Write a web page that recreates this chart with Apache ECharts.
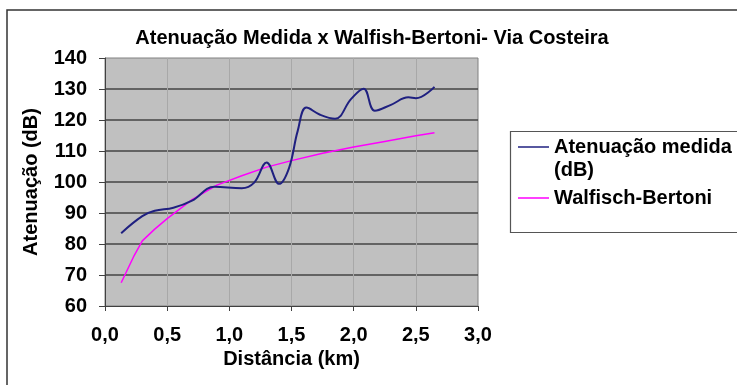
<!DOCTYPE html>
<html>
<head>
<meta charset="utf-8">
<script src="https://cdn.jsdelivr.net/npm/echarts@6/dist/echarts.min.js"></script>
<style>
  html, body { margin: 0; padding: 0; background: #ffffff; }
  #chart { width: 737px; height: 385px; }
</style>
</head>
<body>
<div id="chart"></div>
<script>
// Distance (km) and attenuation (dB) — measured along Via Costeira
const distMedida = [0.13, 0.30, 0.40, 0.55, 0.70, 0.88, 1.10, 1.20, 1.30, 1.40, 1.48, 1.55, 1.62, 1.73, 1.85, 1.98, 2.08, 2.17, 2.30, 2.44, 2.50, 2.65];
const atenMedida = [83.5, 89.0, 90.7, 91.7, 94.0, 98.5, 98.0, 99.8, 106.3, 99.4, 104.5, 116.5, 124.0, 121.7, 120.4, 126.8, 130.1, 123.0, 124.9, 127.3, 127.0, 130.7];

// Walfisch-Bertoni prediction
const distWB = [0.13, 0.23, 0.30, 0.40, 0.50, 0.70, 0.90, 1.10, 1.30, 1.50, 1.75, 2.00, 2.25, 2.50, 2.65];
const atenWB = [67.5, 75.9, 81.0, 84.8, 88.2, 94.3, 99.0, 102.0, 104.8, 106.9, 109.3, 111.3, 113.1, 114.9, 115.9];

const xTicks = [0, 0.5, 1.0, 1.5, 2.0, 2.5, 3.0];
const yTicks = [60, 70, 80, 90, 100, 110, 120, 130, 140];

const serieMedida = 'Atenuação medida (dB)';
const serieWB = 'Walfisch-Bertoni';
const corMedida = '#1f2080';
const corWB = '#ff00ff';

const FONT = '"Liberation Sans", Arial, sans-serif';
const BOLD20 = 'bold 20px "Liberation Sans", Arial, sans-serif';

const chart = echarts.init(document.getElementById('chart'), null, { renderer: 'canvas' });

// Legend panel on the right: framed box with a line sample and label per series
const legendGraphics = [
  {
    type: 'rect',
    shape: { x: 510.5, y: 131.5, width: 260, height: 101 },
    style: { fill: '#fff', stroke: '#555', lineWidth: 1.2 },
    silent: true
  },
  {
    type: 'line',
    shape: { x1: 518, y1: 147, x2: 549, y2: 147 },
    style: { stroke: corMedida, lineWidth: 1.5 },
    silent: true
  },
  {
    type: 'text',
    x: 554, y: 147,
    style: { text: 'Atenuação medida\n(dB)', font: BOLD20, fill: '#000', verticalAlign: 'top', lineHeight: 23 },
    silent: true
  },
  {
    type: 'line',
    shape: { x1: 518, y1: 198, x2: 549, y2: 198 },
    style: { stroke: corWB, lineWidth: 1.5 },
    silent: true
  },
  {
    type: 'text',
    x: 554, y: 198,
    style: { text: serieWB, font: BOLD20, fill: '#000', verticalAlign: 'middle' },
    silent: true
  }
];
// first label block: shift so its first line is centred on the sample line
legendGraphics[2].y = 147 - 11.5;

chart.setOption({
  animation: false,
  backgroundColor: '#ffffff',
  textStyle: { fontFamily: FONT },
  title: {
    text: 'Atenuação Medida x Walfish-Bertoni- Via Costeira',
    left: 367,
    textAlign: 'center',
    top: 23,
    textStyle: { fontFamily: FONT, fontSize: 20, fontWeight: 'bold', color: '#000' }
  },
  graphic: [
    {
      type: 'rect',
      shape: { x: 7, y: 10, width: 800, height: 420 },
      style: { fill: 'none', stroke: '#333', lineWidth: 1.5 },
      silent: true
    }
  ].concat(legendGraphics),
  grid: {
    left: 105,
    right: 259,
    top: 58,
    bottom: 79,
    show: true,
    backgroundColor: '#c0c0c0',
    borderColor: '#808080',
    borderWidth: 1,
    containLabel: false
  },
  xAxis: {
    type: 'value',
    min: xTicks[0],
    max: xTicks[xTicks.length - 1],
    interval: 0.5,
    name: 'Distância (km)',
    nameLocation: 'middle',
    nameGap: 42,
    nameTextStyle: { fontFamily: FONT, fontSize: 20, fontWeight: 'bold', color: '#000' },
    axisLine: { show: true, lineStyle: { color: '#404040', width: 1 } },
    axisTick: { show: true, length: 5, lineStyle: { color: '#404040' } },
    axisLabel: {
      margin: 19,
      fontFamily: FONT, fontSize: 20, fontWeight: 'bold', color: '#000',
      formatter: v => v.toFixed(1).replace('.', ',')
    },
    splitLine: { show: true, showMinLine: false, showMaxLine: false, lineStyle: { color: '#a8a8a8', width: 1 } }
  },
  yAxis: {
    type: 'value',
    min: yTicks[0],
    max: yTicks[yTicks.length - 1],
    interval: 10,
    name: 'Atenuação (dB)',
    nameLocation: 'middle',
    nameGap: 64,
    nameTextStyle: { fontFamily: FONT, fontSize: 20, fontWeight: 'bold', color: '#000' },
    axisLine: { show: true, lineStyle: { color: '#404040', width: 1 } },
    axisTick: { show: true, length: 6, lineStyle: { color: '#404040' } },
    axisLabel: {
      margin: 18,
      fontFamily: FONT, fontSize: 20, fontWeight: 'bold', color: '#000'
    },
    splitLine: { show: true, showMinLine: false, showMaxLine: false, lineStyle: { color: '#454545', width: 1.5 } }
  },
  series: [
    {
      name: serieMedida,
      type: 'line',
      data: distMedida.map((d, i) => [d, atenMedida[i]]),
      smooth: 0.4,
      symbol: 'none',
      lineStyle: { color: corMedida, width: 2 },
      itemStyle: { color: corMedida },
      z: 3
    },
    {
      name: serieWB,
      type: 'line',
      data: distWB.map((d, i) => [d, atenWB[i]]),
      smooth: false,
      symbol: 'none',
      lineStyle: { color: corWB, width: 1.5 },
      itemStyle: { color: corWB },
      z: 2
    }
  ]
});
</script>
</body>
</html>
